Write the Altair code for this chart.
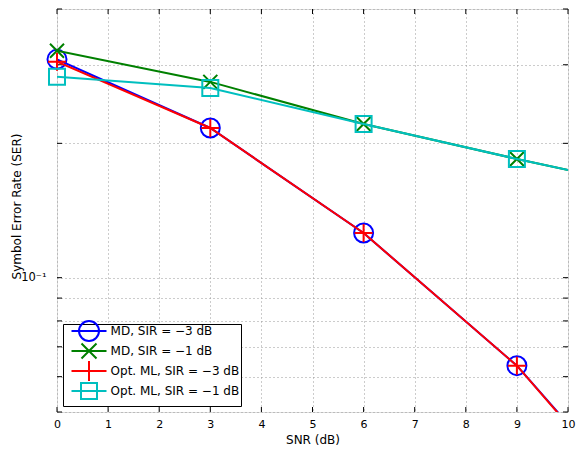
import altair as alt
import pandas as pd

# ---- data ----
snr = [0, 3, 6, 9, 12]
series_names = [
    "MD, SIR = −3 dB",
    "MD, SIR = −1 dB",
    "Opt. ML, SIR = −3 dB",
    "Opt. ML, SIR = −1 dB",
]
ser_md_m3 = [0.3085, 0.2165, 0.1259, 0.0635, 0.0258]
ser_md_m1 = [0.3225, 0.2746, 0.2210, 0.1845, 0.1556]
ser_ml_m3 = [0.3048, 0.2165, 0.1259, 0.0635, 0.0255]
ser_ml_m1 = [0.2820, 0.2660, 0.2210, 0.1845, 0.1556]
x_ticks = [0, 1, 2, 3, 4, 5, 6, 7, 8, 9, 10]
y_ticks = [0.05, 0.06, 0.07, 0.08, 0.09, 0.1, 0.2, 0.3, 0.4]

colors = ["#0000FF", "#008000", "#FF0000", "#00BFBF"]
marker_shapes = ["circle", "M-1,-1L1,1M-1,1L1,-1", "M-1,0L1,0M0,-1L0,1", "square"]
marker_sizes = [361, 196, 324, 256]
# legend glyphs (line + marker); the leading moves give every entry the same height
legend_paths = [
    "M0,-10M0,10M-17.5,0H17.5M10,0A10,10,0,1,1,-10,0A10,10,0,1,1,10,0",
    "M0,-10M0,10M-17.5,0H17.5M-7.5,-7.5L7.5,7.5M-7.5,7.5L7.5,-7.5",
    "M0,-10M0,10M-17.5,0H17.5M0,-10V10",
    "M0,-10M0,10M-17.5,0H17.5M-8,-8H8V8H-8Z",
]

all_series = [ser_md_m3, ser_md_m1, ser_ml_m3, ser_ml_m1]
rows = []
for name, vals in zip(series_names, all_series):
    for s, v in zip(snr, vals):
        rows.append({"snr": s, "ser": v, "series": name})
df = pd.DataFrame(rows)
df_xt = pd.DataFrame({"t": x_ticks})
df_yt = pd.DataFrame({"t": y_ticks})

W, H = 511, 403
TICK = 5
FONT = "DejaVu Sans"

x_scale = alt.Scale(domain=[0, 10], nice=False)
y_scale = alt.Scale(type="log", domain=[0.05, 0.4], nice=False)
color_scale = alt.Scale(domain=series_names, range=colors)

grid_kw = dict(grid=True, gridColor="#999999", gridDash=[1, 3], gridWidth=1)

x_main = alt.Axis(orient="bottom", values=x_ticks, ticks=False, tickSize=0, domain=False,
                  labelPadding=6, labelFontSize=11, labelFont=FONT, labelColor="black",
                  labelFlush=False, title="SNR (dB)", titleFont=FONT, titleFontSize=12,
                  titleFontWeight="normal", titleColor="black", titleBaseline="top",
                  titleY=22.5, **grid_kw)
y_main = alt.Axis(orient="left", values=y_ticks, ticks=False, tickSize=0, domain=False,
                  labelPadding=11, labelFontSize=11.5, labelFont=FONT, labelColor="black",
                  labelBaseline="middle",
                  labelExpr="datum.value == 0.1 ? '10⁻¹' : ''",
                  title="Symbol Error Rate (SER)", titleFont=FONT, titleFontSize=12,
                  titleFontWeight="normal", titleColor="black", titleX=-34, titleY=197,
                  **grid_kw)

leg = alt.Legend(orient="bottom-left", offset=6, padding=1, title=None,
                 strokeColor="black", fillColor="white", cornerRadius=0,
                 labelFont=FONT, labelFontSize=12, labelColor="black",
                 symbolSize=4, symbolStrokeWidth=2, symbolOpacity=1,
                 symbolOffset=19, labelOffset=15.6, rowPadding=-15, labelLimit=300)

layers = []

# invisible carrier of the legend (first, so its legend settings win)
layers.append(alt.Chart(df).mark_point(opacity=0, filled=False, size=4).encode(
    color=alt.Color("series:N", scale=color_scale, legend=leg),
    shape=alt.Shape("series:N", scale=alt.Scale(domain=series_names, range=legend_paths),
                    legend=leg),
))

# inward frame ticks: full-length rules dashed so that only both ends show
layers.append(alt.Chart(df_xt).mark_rule(color="black", strokeWidth=1,
                                         strokeDash=[TICK, H - 2 * TICK, TICK, 2000]).encode(
    x=alt.X("t:Q", scale=x_scale, axis=x_main)))
layers.append(alt.Chart(df_yt).mark_rule(color="black", strokeWidth=1,
                                         strokeDash=[TICK, W - 2 * TICK, TICK, 2000]).encode(
    y=alt.Y("t:Q", scale=y_scale, axis=y_main)))

for i, name in enumerate(series_names):
    base = alt.Chart(df).transform_filter(alt.datum.series == name)
    line = base.mark_line(clip=True, strokeWidth=2).encode(
        x=alt.X("snr:Q", scale=x_scale),
        y=alt.Y("ser:Q", scale=y_scale),
        color=alt.Color("series:N", scale=color_scale),
    )
    pts = base.mark_point(filled=False, opacity=1, strokeWidth=2,
                          shape=marker_shapes[i], size=marker_sizes[i]).encode(
        x=alt.X("snr:Q", scale=x_scale),
        y=alt.Y("ser:Q", scale=y_scale),
        color=alt.Color("series:N", scale=color_scale),
    )
    layers += [line, pts]

chart = (
    alt.layer(*layers)
    .properties(width=W, height=H,
                padding={"left": 57, "top": 9, "right": 11, "bottom": 37},
                autosize=alt.AutoSizeParams(type="none"))
    .configure_view(stroke="black", strokeWidth=1.5)
    .configure(font=FONT)
)

chart.save("out.html", embed_options={"renderer": "svg", "actions": False})
